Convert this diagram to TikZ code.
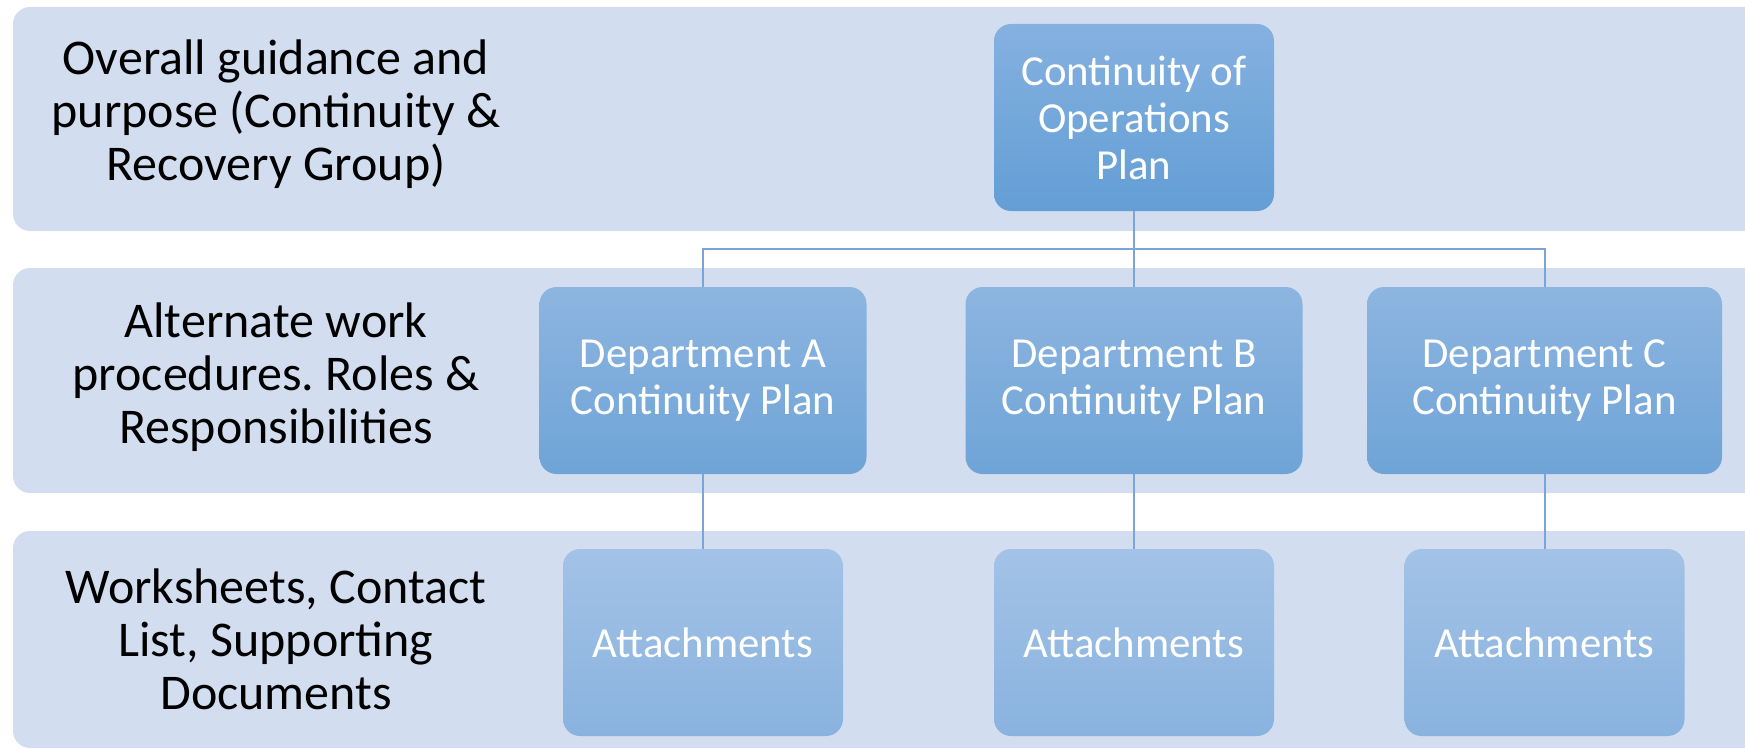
\documentclass[tikz,border=0pt]{standalone}
\usepackage{fontspec}
\setmainfont{Carlito}
\usetikzlibrary{positioning}
\frenchspacing

\definecolor{bandfill}{RGB}{210,222,239}
\definecolor{linkcol}{RGB}{123,165,216}

\tikzset{
  band/.style={fill=bandfill, rounded corners=8.5pt},
  lbl/.style={align=center, font=\fontsize{25}{26.5}\selectfont},
  plan/.style={rounded corners=8.5pt, text=white, align=center,
    minimum height=93.5pt, inner sep=0pt,
    font=\fontsize{21.4}{23.5}\selectfont},
  topbox/.style={plan, minimum width=140pt,
    top color={rgb,255:red,133;green,177;blue,224},
    bottom color={rgb,255:red,99;green,158;blue,213}},
  deptbox/.style={plan,
    top color={rgb,255:red,141;green,181;blue,224},
    bottom color={rgb,255:red,111;green,164;blue,215}},
  attbox/.style={plan, minimum width=140pt,
    top color={rgb,255:red,163;green,194;blue,230},
    bottom color={rgb,255:red,137;green,179;blue,223}},
  link/.style={draw=linkcol, line width=1pt}
}

\begin{document}
\begin{tikzpicture}[x=0.5pt, y=-0.5pt]
    \useasboundingbox (0,0) rectangle (1745,749);
    \clip (0,0) rectangle (1745,749);
    \fill[band] (13,7) rectangle (1800,231);
    \fill[band] (13,268) rectangle (1800,493);
    \fill[band] (13,531) rectangle (1800,748);

    \node[lbl] (l1) at (276,114) {Overall guidance and\\purpose (Continuity \&\\Recovery Group)};
    \node[lbl] (l2) at (276,377) {Alternate work\\procedures. Roles \&\\Responsibilities};
    \node[lbl] (l3) at (276,639) {Worksheets, Contact\\List, Supporting\\Documents};

    \node[topbox] (coop) at (1134,117.5) {Continuity of\\Operations\\Plan};
    \node[deptbox, minimum width=163.5pt] (depa) at (703,380.5) {Department A\\Continuity Plan};
    \node[deptbox, minimum width=168.5pt] (depb) at (1134,380.5) {Department B\\Continuity Plan};
    \node[deptbox, minimum width=177.5pt] (depc) at (1544.5,380.5) {Department C\\Continuity Plan};
    \node[attbox] (atta) at (703,642.5) {Attachments};
    \node[attbox] (attb) at (1134,642.5) {Attachments};
    \node[attbox] (attc) at (1544.5,642.5) {Attachments};

    \draw[link] (coop.south) -- ++(0,38) -| (depa.north);
    \draw[link] (coop.south) -- ++(0,38) -| (depc.north);
    \draw[link] (coop.south) -- (depb.north);
    \draw[link] (depa) -- (atta);
    \draw[link] (depb) -- (attb);
    \draw[link] (depc) -- (attc);
  \end{tikzpicture}
\end{document}
